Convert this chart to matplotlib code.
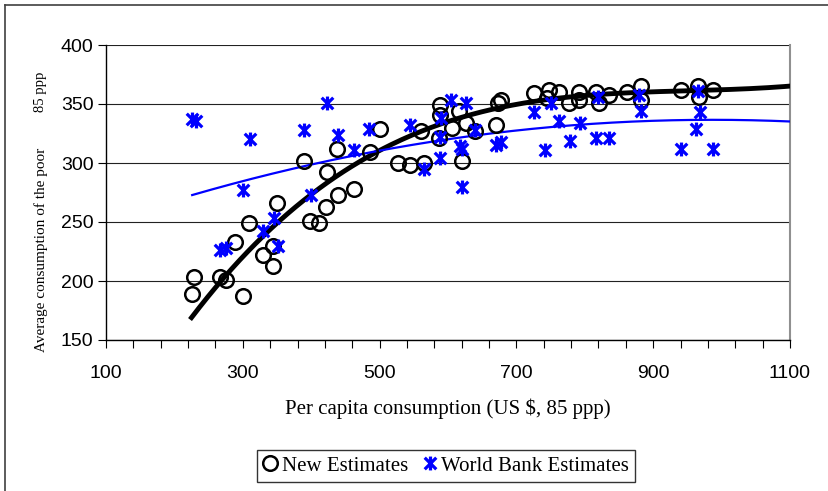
import numpy as np
import matplotlib
matplotlib.use("Agg")
import matplotlib.pyplot as plt
from matplotlib.path import Path
from matplotlib.lines import Line2D

# New Estimates (circles)
new_x = [228, 226, 266, 276, 300, 288, 309, 329, 344, 344, 350, 390, 423, 398,
         412, 422, 437, 439, 462, 486, 501, 527, 544, 565, 561, 589, 589, 587,
         606, 616, 626, 621, 640, 670, 673, 678, 726, 748, 745, 763, 777, 792,
         792, 816, 821, 836, 862, 882, 882, 940, 965, 967, 987]
new_y = [203, 189, 203, 201, 187, 233, 249, 222, 230, 213, 266, 302, 292, 251,
         249, 263, 312, 273, 278, 309, 329, 300, 298, 300, 327, 349, 341, 321,
         330, 344, 334, 302, 327, 332, 351, 353, 359, 362, 355, 360, 351, 360,
         353, 360, 351, 358, 360, 365, 353, 362, 365, 356, 362]

# World Bank Estimates (stars)
wb_x = [226, 231, 310, 390, 423, 439, 300, 400, 345, 329, 352, 266, 276, 463,
        485, 544, 565, 589, 588, 590, 604, 626, 617, 621, 621, 640, 670, 677,
        726, 742, 751, 763, 778, 793, 816, 835, 820, 879, 882, 966, 968, 963,
        940, 988]
wb_y = [337, 336, 320, 328, 351, 324, 277, 273, 253, 242, 230, 226, 228, 311,
        329, 332, 295, 304, 322, 338, 353, 351, 314, 312, 280, 328, 315, 318,
        343, 311, 351, 336, 319, 334, 321, 321, 356, 358, 344, 361, 343, 329,
        312, 312]

# order-3 trendline of the new estimates
trend_x = [225, 441, 563, 792, 962, 1100]
trend_y = [169, 290, 328, 356, 362, 365]

x_end = 1100

# Excel style star marker: X plus a vertical bar
star = Path([(-1, -1), (1, 1), (-1, 1), (1, -1), (0, -1.2), (0, 1.2)],
            [Path.MOVETO, Path.LINETO, Path.MOVETO, Path.LINETO,
             Path.MOVETO, Path.LINETO])

fig = plt.figure(figsize=(8.29, 4.91), dpi=100)
ax = fig.add_axes([106 / 829, 1 - 340 / 491, 684 / 829, 295 / 491])

xs = np.linspace(min(trend_x), x_end, 300)
ax.plot(xs, np.polyval(np.polyfit(trend_x, trend_y, 3), xs), color="black",
        lw=3.5, zorder=3)
xs2 = np.linspace(min(wb_x), x_end, 300)
ax.plot(xs2, np.polyval(np.polyfit(wb_x, wb_y, 2), xs2), color="#0000FF", lw=1.6,
        zorder=3)

ax.plot(new_x, new_y, "o", ms=10.5, mfc="none", mec="black", mew=1.8,
        label="New Estimates", zorder=4)
ax.plot(wb_x, wb_y, ls="none", marker=star, ms=10, mfc="none", mec="#0000FF",
        mew=2.3, label="World Bank Estimates", zorder=5)

ax.set_xlim(100, 1100)
ax.set_ylim(150, 400)
ax.set_xticks(np.arange(100, 1101, 200))
ax.set_xticks(np.arange(100, 1101, 40), minor=True)
ax.set_yticks(np.arange(150, 401, 50))
ax.yaxis.grid(True, color="#222222", lw=0.8)
ax.set_axisbelow(True)

ax.spines["right"].set_color("#909090")
ax.spines["right"].set_linewidth(1.5)
ax.spines["top"].set_visible(False)
for s in ["left", "bottom"]:
    ax.spines[s].set_color("black")
    ax.spines[s].set_linewidth(1.0)

ax.tick_params(axis="both", which="both", direction="out", length=6, width=0.8,
               labelsize=14)
ax.tick_params(axis="y", pad=3)
ax.tick_params(axis="x", which="major", pad=12)
for lbl in ax.get_xticklabels() + ax.get_yticklabels():
    lbl.set_family("Liberation Sans")

ax.set_xlabel("Per capita consumption (US $, 85 ppp)", family="Liberation Serif",
              fontsize=15, labelpad=12)

fig.text(41 / 829, 1 - 250 / 491, "Average consumption of the poor",
         rotation=90, ha="center", va="center", family="Liberation Serif",
         fontsize=11)
fig.text(41 / 829, 1 - 92 / 491, "85 ppp", rotation=90, ha="center",
         va="center", family="Liberation Serif", fontsize=10.5)

leg = fig.legend(loc="center", bbox_to_anchor=(446 / 829, 1 - 466 / 491), ncol=2,
                 frameon=True, fancybox=False, edgecolor="black",
                 prop={"family": "Liberation Serif", "size": 15},
                 handlelength=0.7, handletextpad=0.2, columnspacing=0.7,
                 borderpad=0.3, borderaxespad=0)
leg.get_frame().set_linewidth(1.0)

# outer chart border (cropped on right and bottom)
fig.add_artist(Line2D([5 / 829, 1], [1 - 5 / 491, 1 - 5 / 491], color="#404040",
                      lw=1.2))
fig.add_artist(Line2D([5 / 829, 5 / 829], [0, 1 - 5 / 491], color="#404040",
                      lw=1.2))

fig.savefig("out.png", dpi=100)
